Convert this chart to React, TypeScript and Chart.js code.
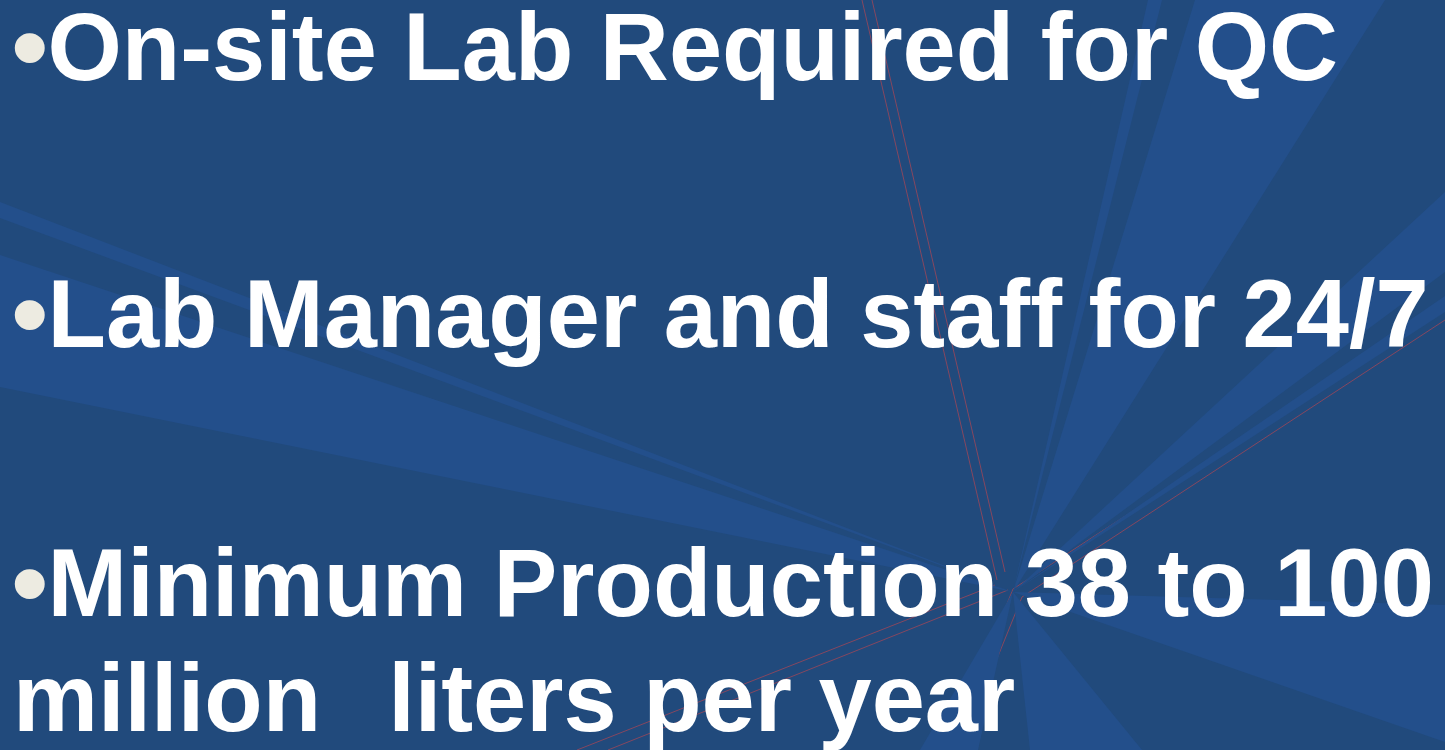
import React, { useEffect, useRef } from "react";
import { Chart, registerables } from "chart.js";

Chart.register(...registerables);

const W = 1445;
const H = 750;

// Slide text
const bulletLines = [
  "On-site Lab Required for QC",
  "Lab Manager and staff for 24/7",
  "Minimum Production 38 to 100",
];
const continuationWords = ["million  ", "liters per year"];
const bulletBaselines = [80, 347, 616];
const continuationBaseline = 731;

// Background light rays (polygons, page pixel coordinates)
const rayUpWide = [[1013, 592], [1195, 0], [1385, 0]];
const rayUpNarrow = [[1013, 592], [1148, 0], [1162, 0]];
const rayRightHigh = [[1013, 592], [1445, 192], [1445, 272]];
const rayRightThin = [[1013, 592], [1445, 296], [1445, 312]];
const rayRightLow = [[1013, 592], [1445, 605], [1445, 742]];
const rayDown = [[1013, 592], [1030, 750], [1142, 750]];
const rayDownLeft = [[1013, 592], [920, 750], [978, 750]];
const rayLeftThin = [[1013, 592], [0, 202], [0, 218]];
const rayLeftWide = [[1013, 592], [0, 255], [0, 387]];

const rays = [
  rayUpWide,
  rayUpNarrow,
  rayRightHigh,
  rayRightThin,
  rayRightLow,
  rayDown,
  rayDownLeft,
  rayLeftThin,
  rayLeftWide,
];

// Thin red guide lines
const redUpA = [[862, 0], [997, 580]];
const redUpB = [[872, 0], [1005, 572]];
const redUpRightA = [[1013, 589], [1445, 308]];
const redUpRightB = [[1022, 597], [1445, 320]];
const redDownA = [[1013, 589], [947, 750]];
const redDownB = [[1022, 597], [960, 750]];
const redLeftA = [[995, 585], [577, 750]];
const redLeftB = [[1008, 590], [608, 750]];

const redLines = [redUpA, redUpB, redUpRightA, redUpRightB, redDownA, redDownB, redLeftA, redLeftB];

const BG = "rgb(33,74,124)";
const RAY = "rgb(35,79,139)";
const RED = "rgba(150,70,90,0.85)";

const FONT_SIZE = 95.6;
const FONT = '"Liberation Sans", Arial, sans-serif';
// baseline offset for line-height = FONT_SIZE
const BASE_OFF = (FONT_SIZE - 1.117 * FONT_SIZE) / 2 + 0.905 * FONT_SIZE;

const BULLET_SIZE = 110;
const BULLET_BASE_OFF = (BULLET_SIZE - 1.117 * BULLET_SIZE) / 2 + 0.905 * BULLET_SIZE;

export default function App() {
  const canvasRef = useRef<HTMLCanvasElement | null>(null);

  useEffect(() => {
    const canvas = canvasRef.current;
    if (!canvas) return;
    const toPts = (arr: number[][]) => arr.map(([x, y]) => ({ x, y }));
    const rayDatasets = rays.map((poly) => ({
      data: toPts([...poly, poly[0]]),
      showLine: true,
      fill: "shape" as any,
      backgroundColor: RAY,
      borderColor: "rgba(0,0,0,0)",
      borderWidth: 0,
      pointRadius: 0,
      tension: 0,
    }));
    const redDatasets = redLines.map((seg) => ({
      data: toPts(seg),
      showLine: true,
      fill: false,
      borderColor: RED,
      borderWidth: 1,
      pointRadius: 0,
      tension: 0,
    }));
    const chart = new Chart(canvas, {
      type: "scatter",
      data: { datasets: [...rayDatasets, ...redDatasets] as any },
      options: {
        animation: false,
        responsive: false,
        events: [],
        layout: { padding: 0 },
        plugins: { legend: { display: false }, tooltip: { enabled: false }, title: { display: false } },
        scales: {
          x: { type: "linear", min: 0, max: W, display: false },
          y: { type: "linear", min: 0, max: H, reverse: true, display: false },
        },
      },
    });
    return () => chart.destroy();
  }, []);

  const textStyle: React.CSSProperties = {
    position: "absolute",
    margin: 0,
    fontFamily: FONT,
    fontWeight: 700,
    fontSize: FONT_SIZE,
    lineHeight: `${FONT_SIZE}px`,
    color: "#ffffff",
    whiteSpace: "pre",
  };
  const bulletStyle: React.CSSProperties = {
    position: "absolute",
    margin: 0,
    fontFamily: FONT,
    fontWeight: 400,
    fontSize: BULLET_SIZE,
    lineHeight: `${BULLET_SIZE}px`,
    color: "#EDEBE1",
    whiteSpace: "pre",
  };

  return (
    <div
      style={{
        position: "fixed",
        left: 0,
        top: 0,
        width: W,
        height: H,
        overflow: "hidden",
        background: BG,
      }}
    >
      <canvas
        ref={canvasRef}
        width={W}
        height={H}
        style={{ position: "absolute", left: 0, top: 0, width: W, height: H, display: "block" }}
      />
      {bulletLines.map((t, i) => (
        <React.Fragment key={i}>
          <div style={{ ...bulletStyle, left: 10.5, top: bulletBaselines[i] + 4.5 - BULLET_BASE_OFF }}>•</div>
          <div style={{ ...textStyle, left: 47.5, top: bulletBaselines[i] - BASE_OFF }}>{t}</div>
        </React.Fragment>
      ))}
      <div style={{ ...textStyle, left: 13, top: continuationBaseline - BASE_OFF }}>
        {continuationWords[0]}
        <span style={{ marginLeft: 14 }}>{continuationWords[1]}</span>
      </div>
    </div>
  );
}
